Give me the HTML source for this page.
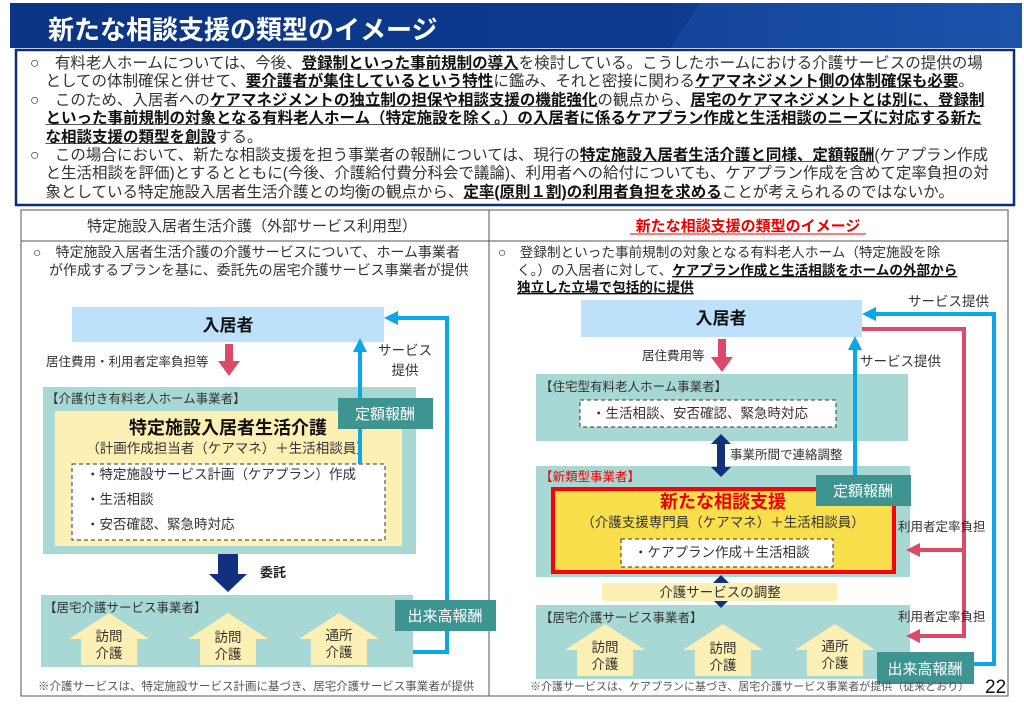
<!DOCTYPE html>
<html><head><meta charset="utf-8"><style>
body{margin:0;background:#fff;width:1024px;height:706px;overflow:hidden;position:relative;font-family:"Liberation Sans","Noto Sans CJK JP",sans-serif;}
.p{position:absolute;left:30px;top:55px;font-size:15.5px;line-height:18.4px;color:#333;white-space:nowrap;}
.p b{color:#111;text-decoration:underline;text-decoration-color:#555;}
svg{position:absolute;left:0;top:0;}
</style></head><body>
<svg width="1024" height="706" font-family="Liberation Sans, Noto Sans CJK JP, sans-serif">
<defs><linearGradient id="hg" x1="0" x2="1"><stop offset="0" stop-color="#0b3585"/><stop offset="0.65" stop-color="#0d3a8e"/><stop offset="1" stop-color="#1e55b0"/></linearGradient></defs>
<rect x="0" y="0" width="1024" height="706" fill="#fff"/>
<rect x="10" y="3" width="1012" height="45" fill="url(#hg)"/>
<polygon points="700,3 1022,3 1022,48 670,48" fill="#1a4fa6" opacity="0.5"/>
<text x="48" y="39" font-size="26" font-weight="bold" fill="#fff">新たな相談支援の類型のイメージ</text>
<rect x="16" y="50" width="998" height="155" fill="#fff" stroke="#0d2d7a" stroke-width="2.5"/>
<rect x="21" y="210" width="468" height="486" fill="none" stroke="#555" stroke-width="1"/>
<rect x="489" y="210" width="519" height="486" fill="none" stroke="#555" stroke-width="1"/>
<line x1="21" y1="241" x2="1008" y2="241" stroke="#555"/>
<text x="252" y="231" font-size="15" fill="#333" text-anchor="middle">特定施設入居者生活介護（外部サービス利用型）</text>
<text x="748" y="231" font-size="15" fill="#e00" font-weight="bold" text-anchor="middle">新たな相談支援の類型のイメージ</text>
<line x1="630" y1="234" x2="866" y2="234" stroke="#e00" stroke-width="1"/>
<text x="33" y="257" font-size="14" fill="#333">○　特定施設入居者生活介護の介護サービスについて、ホーム事業者</text>
<text x="49" y="275" font-size="14" fill="#333">が作成するプランを基に、委託先の居宅介護サービス事業者が提供</text>
<text x="498" y="257" font-size="13.6" fill="#333">○　登録制といった事前規制の対象となる有料老人ホーム（特定施設を除</text>
<text x="517" y="275" font-size="13.6" fill="#333">く。）の入居者に対して、<tspan font-weight="bold" fill="#111" text-decoration="underline">ケアプラン作成と生活相談をホームの外部から</tspan></text>
<text x="517" y="292" font-size="13.6" fill="#111" font-weight="bold" text-decoration="underline">独立した立場で包括的に提供</text>

<!-- LEFT -->
<rect x="72" y="307" width="312" height="35" fill="#bde0fb"/>
<text x="228" y="331" font-size="17" font-weight="bold" text-anchor="middle" fill="#111">入居者</text>
<polygon points="225,344 233,344 233,361 240,361 229,376 218,361 225,361" fill="#dc4a6a"/>
<text x="46" y="366" font-size="12.5" fill="#333">居住費用・利用者定率負担等</text>
<rect x="43" y="387" width="373" height="167" fill="#a8d8d4"/>
<text x="46" y="403" font-size="12.5" fill="#333">【介護付き有料老人ホーム事業者】</text>
<rect x="55" y="411" width="347" height="135" fill="#fdf0b5"/>
<text x="228" y="434" font-size="18" font-weight="bold" text-anchor="middle" fill="#111">特定施設入居者生活介護</text>
<text x="228" y="453" font-size="13.5" text-anchor="middle" fill="#333">（計画作成担当者（ケアマネ）＋生活相談員）</text>
<rect x="72" y="464" width="313" height="76" fill="#fff" stroke="#333" stroke-dasharray="4,3"/>
<text x="86" y="479" font-size="13.5" fill="#333">・特定施設サービス計画（ケアプラン）作成</text>
<text x="86" y="504" font-size="13.5" fill="#333">・生活相談</text>
<text x="86" y="529" font-size="13.5" fill="#333">・安否確認、緊急時対応</text>
<line x1="360" y1="464" x2="360" y2="350" stroke="#0aa8e8" stroke-width="4"/>
<polygon points="353,352 367,352 360,338" fill="#0aa8e8"/>
<rect x="338" y="398" width="95" height="31" fill="#3e9490"/>
<text x="385" y="419" font-size="15" fill="#fff" text-anchor="middle">定額報酬</text>
<text x="405" y="355" font-size="13.5" fill="#333" text-anchor="middle">サービス</text>
<text x="405" y="375" font-size="13.5" fill="#333" text-anchor="middle">提供</text>
<polyline points="413,652 447,652 447,318 396,318" fill="none" stroke="#0aa8e8" stroke-width="4"/>
<polygon points="384,318 398,311 398,325" fill="#0aa8e8"/>
<polygon points="218,554 238,554 238,574 247,574 228,592 209,574 218,574" fill="#11307e"/>
<text x="260" y="577" font-size="13" font-weight="bold" fill="#222">委託</text>
<rect x="41" y="595" width="372" height="72" fill="#a8d8d4"/>
<text x="44" y="612" font-size="12.5" fill="#333">【居宅介護サービス事業者】</text>
<g fill="#fdf0b5">
<polygon points="109,613 149,639 137,639 137,665 81,665 81,639 69,639"/>
<polygon points="228,613 268,639 256,639 256,665 200,665 200,639 188,639"/>
<polygon points="339,613 379,639 367,639 367,665 311,665 311,639 299,639"/>
</g>
<g font-size="13.5" fill="#333" text-anchor="middle">
<text x="109" y="641">訪問</text><text x="109" y="658">介護</text>
<text x="228" y="642">訪問</text><text x="228" y="659">介護</text>
<text x="339" y="640">通所</text><text x="339" y="657">介護</text>
</g>
<rect x="395" y="600" width="101" height="31" fill="#3e9490"/>
<text x="445" y="621" font-size="15" fill="#fff" text-anchor="middle">出来高報酬</text>
<text x="38" y="690" font-size="11.5" fill="#555">※介護サービスは、特定施設サービス計画に基づき、居宅介護サービス事業者が提供</text>

<!-- RIGHT -->
<rect x="581" y="300" width="281" height="37" fill="#bde0fb"/>
<text x="721" y="324" font-size="17" font-weight="bold" text-anchor="middle" fill="#111">入居者</text>
<polygon points="718,339 726,339 726,357 733,357 722,372 711,357 718,357" fill="#dc4a6a"/>
<text x="642" y="360" font-size="12.5" fill="#333">居住費用等</text>
<rect x="536" y="374" width="372" height="67" fill="#a8d8d4"/>
<text x="540" y="391" font-size="12.5" fill="#333">【住宅型有料老人ホーム事業者】</text>
<rect x="580" y="400" width="256" height="27" fill="#fff" stroke="#333" stroke-dasharray="4,3"/>
<text x="592" y="418" font-size="13.5" fill="#333">・生活相談、安否確認、緊急時対応</text>
<text x="730" y="459" font-size="12.5" fill="#333">事業所間で連絡調整</text>
<rect x="536" y="466" width="374" height="111" fill="#a8d8d4"/>
<text x="540" y="481" font-size="12.5" fill="#e00">【新類型事業者】</text>
<rect x="553" y="489" width="341" height="83" fill="#f9df4b" stroke="#f00" stroke-width="4"/>
<text x="723" y="508" font-size="18" font-weight="bold" fill="#e00" text-anchor="middle">新たな相談支援</text>
<text x="723" y="527" font-size="13.5" fill="#333" text-anchor="middle">（介護支援専門員（ケアマネ）＋生活相談員）</text>
<rect x="621" y="539" width="212" height="28" fill="#fff" stroke="#333" stroke-dasharray="4,3"/>
<text x="634" y="557" font-size="13.5" fill="#333">・ケアプラン作成＋生活相談</text>
<polygon points="721,434 731,444 725,444 725,467 731,467 721,477 711,467 717,467 717,444 711,444" fill="#11307e"/>
<line x1="855" y1="475" x2="855" y2="348" stroke="#0aa8e8" stroke-width="4"/>
<polygon points="848,350 862,350 855,336" fill="#0aa8e8"/>
<text x="860" y="366" font-size="13.5" fill="#333">サービス提供</text>
<rect x="816" y="475" width="95" height="31" fill="#3e9490"/>
<text x="863" y="496" font-size="15" fill="#fff" text-anchor="middle">定額報酬</text>
<rect x="536" y="605" width="374" height="74" fill="#a8d8d4"/>
<text x="540" y="622" font-size="12.5" fill="#333">【居宅介護サービス事業者】</text>
<polygon points="721,575 731,585 725,585 725,598 731,598 721,608 711,598 717,598 717,585 711,585" fill="#11307e"/>
<rect x="602" y="583" width="235" height="18" fill="#fdf0b5"/>
<text x="720" y="597" font-size="13.5" fill="#333" text-anchor="middle">介護サービスの調整</text>
<g fill="#fdf0b5">
<polygon points="605,624 645,650 633,650 633,676 577,676 577,650 565,650"/>
<polygon points="723,624 763,650 751,650 751,676 695,676 695,650 683,650"/>
<polygon points="835,624 875,650 863,650 863,676 807,676 807,650 795,650"/>
</g>
<g font-size="13.5" fill="#333" text-anchor="middle">
<text x="605" y="652">訪問</text><text x="605" y="669">介護</text>
<text x="723" y="653">訪問</text><text x="723" y="670">介護</text>
<text x="835" y="651">通所</text><text x="835" y="668">介護</text>
</g>
<polyline points="974,664 994,664 994,314 874,314" fill="none" stroke="#0aa8e8" stroke-width="4"/>
<polygon points="862,314 876,307 876,321" fill="#0aa8e8"/>
<text x="908" y="306" font-size="13.5" fill="#333">サービス提供</text>
<polyline points="862,329 964,329 964,636 918,636" fill="none" stroke="#dc4a6a" stroke-width="4"/>
<line x1="964" y1="550" x2="918" y2="550" stroke="#dc4a6a" stroke-width="4"/>
<polygon points="906,550 920,543 920,557" fill="#dc4a6a"/>
<polygon points="906,636 920,629 920,643" fill="#dc4a6a"/>
<text x="898" y="531" font-size="12.5" fill="#333">利用者定率負担</text>
<text x="898" y="621" font-size="12.5" fill="#333">利用者定率負担</text>
<rect x="877" y="652" width="97" height="32" fill="#3e9490"/>
<text x="925" y="674" font-size="15" fill="#fff" text-anchor="middle">出来高報酬</text>
<text x="530" y="690" font-size="11" fill="#555">※介護サービスは、ケアプランに基づき、居宅介護サービス事業者が提供（従来どおり）</text>
<text x="985" y="693" font-size="19" fill="#111">22</text>
</svg>
<div class="p">○　有料老人ホームについては、今後、<b>登録制といった事前規制の導入</b>を検討している。こうしたホームにおける介護サービスの提供の場<br>
　としての体制確保と併せて、<b>要介護者が集住しているという特性</b>に鑑み、それと密接に関わる<b>ケアマネジメント側の体制確保も必要</b>。<br>
○　このため、入居者への<b>ケアマネジメントの独立制の担保や相談支援の機能強化</b>の観点から、<b>居宅のケアマネジメントとは別に、登録制</b><br>
　<b>といった事前規制の対象となる有料老人ホーム（特定施設を除く。）の入居者に係るケアプラン作成と生活相談のニーズに対応する新た</b><br>
　<b>な相談支援の類型を創設</b>する。<br>
○　この場合において、新たな相談支援を担う事業者の報酬については、現行の<b>特定施設入居者生活介護と同様、定額報酬</b>(ケアプラン作成<br>
　と生活相談を評価)とするとともに(今後、介護給付費分科会で議論)、利用者への給付についても、ケアプラン作成を含めて定率負担の対<br>
　象としている特定施設入居者生活介護との均衡の観点から、<b>定率(原則１割)の利用者負担を求める</b>ことが考えられるのではないか。</div>
</body></html>
